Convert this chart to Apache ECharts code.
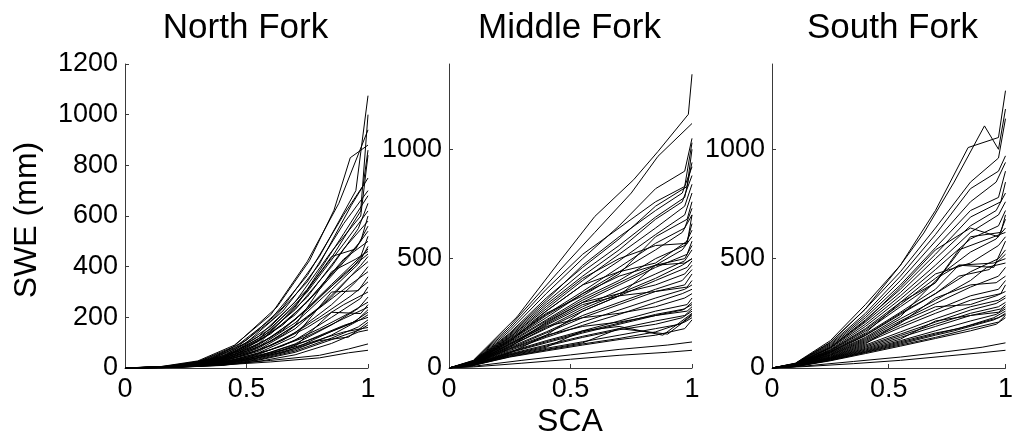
<!DOCTYPE html>
<html>
<head>
<meta charset="utf-8">
<script src="https://cdn.jsdelivr.net/npm/echarts@6/dist/echarts.min.js"></script>
<style>
  html, body { margin: 0; padding: 0; background: #fff; }
  #chart { width: 1016px; height: 437px; }
</style>
</head>
<body>
<div id="chart"></div>
<script>
// SWE (mm) against snow-covered area fraction, one curve per year and basin.
const panelTitles = ['North Fork', 'Middle Fork', 'South Fork'];
const xTicks = [0, 0.5, 1];
const yTicksNorth = [0, 200, 400, 600, 800, 1000, 1200];
const yTicksOther = [0, 500, 1000];
const yMaxNorth = 1200;
const yMaxOther = 1390;

const northFork = [
  [[0,0],[0.15,5],[0.3,25],[0.445,83],[0.625,240],[0.76,425],[0.86,623],[0.927,830],[1,880]],
  [[0,0],[0.15,6],[0.3,28],[0.45,90],[0.6,210],[0.75,420],[0.88,650],[1,940]],
  [[0,0],[0.2,8],[0.35,35],[0.5,110],[0.65,240],[0.8,440],[0.95,700],[1,1075]],
  [[0,0],[0.2,7],[0.35,32],[0.5,100],[0.65,225],[0.8,410],[0.93,640],[1,750]],
  [[0,0],[0.15,4],[0.3,22],[0.45,75],[0.6,185],[0.75,340],[0.9,570],[1,700]],
  [[0,0],[0.2,6],[0.4,45],[0.55,125],[0.7,260],[0.85,460],[0.97,600],[1,840]],
  [[0,0],[0.15,3],[0.3,20],[0.45,70],[0.6,165],[0.75,310],[0.9,530],[1,680]],
  [[0,0],[0.2,6],[0.4,40],[0.55,110],[0.7,230],[0.85,400],[0.96,550],[1,650]],
  [[0,0],[0.15,4],[0.3,18],[0.45,65],[0.6,155],[0.75,300],[0.9,490],[1,620]],
  [[0,0],[0.2,5],[0.4,38],[0.55,105],[0.7,210],[0.85,370],[0.97,500],[1,600]],
  [[0,0],[0.15,3],[0.3,18],[0.45,62],[0.6,145],[0.75,280],[0.9,470],[1,580]],
  [[0,0],[0.2,5],[0.4,35],[0.55,95],[0.7,240],[0.85,440],[0.95,470],[1,560]],
  [[0,0],[0.15,3],[0.35,25],[0.5,78],[0.65,170],[0.8,310],[0.93,450],[1,540]],
  [[0,0],[0.2,5],[0.4,34],[0.55,90],[0.7,190],[0.85,330],[0.97,440],[1,520]],
  [[0,0],[0.15,3],[0.3,16],[0.45,56],[0.6,135],[0.75,260],[0.9,430],[1,500]],
  [[0,0],[0.2,4],[0.4,31],[0.55,84],[0.7,178],[0.85,310],[0.96,410],[1,480]],
  [[0,0],[0.15,3],[0.35,22],[0.5,68],[0.65,150],[0.8,280],[0.93,390],[1,470]],
  [[0,0],[0.2,4],[0.4,29],[0.55,78],[0.7,168],[0.85,380],[0.95,430],[1,460]],
  [[0,0],[0.15,2],[0.3,15],[0.45,52],[0.6,120],[0.75,230],[0.9,370],[1,450]],
  [[0,0],[0.2,4],[0.4,27],[0.55,72],[0.7,155],[0.85,280],[0.97,405],[1,440]],
  [[0,0],[0.15,2],[0.35,20],[0.5,60],[0.65,130],[0.8,240],[0.92,355],[1,420]],
  [[0,0],[0.2,4],[0.4,25],[0.55,66],[0.7,140],[0.85,250],[0.95,340],[1,400]],
  [[0,0],[0.15,2],[0.3,13],[0.45,46],[0.6,105],[0.75,200],[0.9,310],[1,380]],
  [[0,0],[0.2,3],[0.4,22],[0.55,60],[0.7,125],[0.85,300],[0.96,305],[1,360]],
  [[0,0],[0.15,2],[0.35,17],[0.5,52],[0.65,110],[0.8,200],[0.93,285],[1,340]],
  [[0,0],[0.2,3],[0.4,20],[0.55,54],[0.7,110],[0.85,200],[0.97,275],[1,320]],
  [[0,0],[0.15,2],[0.3,12],[0.45,40],[0.6,88],[0.75,160],[0.9,250],[1,300]],
  [[0,0],[0.2,3],[0.4,18],[0.55,47],[0.7,95],[0.85,170],[0.96,235],[1,280]],
  [[0,0],[0.15,2],[0.35,15],[0.5,42],[0.65,88],[0.8,155],[0.92,215],[1,260]],
  [[0,0],[0.2,3],[0.4,16],[0.55,42],[0.7,85],[0.85,220],[0.97,215],[1,250]],
  [[0,0],[0.15,2],[0.3,10],[0.45,33],[0.6,72],[0.75,125],[0.9,195],[1,240]],
  [[0,0],[0.2,3],[0.4,15],[0.55,39],[0.7,78],[0.85,145],[0.95,185],[1,230]],
  [[0,0],[0.15,2],[0.35,13],[0.5,36],[0.65,72],[0.8,125],[0.93,175],[1,220]],
  [[0,0],[0.2,2],[0.4,14],[0.55,36],[0.7,72],[0.85,130],[0.97,192],[1,210]],
  [[0,0],[0.15,1],[0.3,9],[0.45,29],[0.6,62],[0.75,108],[0.9,168],[1,200]],
  [[0,0],[0.2,2],[0.4,12],[0.55,33],[0.7,67],[0.85,118],[0.96,162],[1,190]],
  [[0,0],[0.15,1],[0.35,11],[0.5,31],[0.65,62],[0.8,108],[0.92,122],[1,180]],
  [[0,0],[0.2,2],[0.4,11],[0.55,31],[0.7,62],[0.85,112],[0.97,152],[1,170]],
  [[0,0],[0.15,1],[0.3,8],[0.45,26],[0.6,56],[0.75,97],[0.9,142],[1,160]],
  [[0,0],[0.2,2],[0.4,10],[0.55,26],[0.7,52],[0.85,97],[0.96,142],[1,150]],
  [[0,0],[0.2,4],[0.4,12],[0.6,24],[0.8,40],[0.92,60],[1,70]],
  [[0,0],[0.2,4],[0.4,14],[0.6,30],[0.8,50],[0.92,75],[1,95]],
  [[0,0],[0.2,6],[0.4,42],[0.55,115],[0.7,245],[0.85,435],[0.97,620],[1,1000]],
  [[0,0],[0.15,4],[0.3,24],[0.45,80],[0.6,192],[0.75,365],[0.9,605],[0.98,720],[1,860]]
];

const middleFork = [
  [[0,0],[0.1,35],[0.28,234],[0.45,480],[0.6,693],[0.76,861],[0.86,990],[0.985,1160],[1,1343]],
  [[0,0],[0.1,33],[0.25,190],[0.45,440],[0.6,620],[0.75,800],[0.86,968],[1,1118]],
  [[0,0],[0.1,30],[0.25,170],[0.4,340],[0.55,500],[0.7,650],[0.85,820],[0.97,900],[1,1050]],
  [[0,0],[0.1,30],[0.25,160],[0.4,320],[0.55,460],[0.7,590],[0.85,740],[0.98,830],[1,1000]],
  [[0,0],[0.1,28],[0.25,150],[0.4,300],[0.55,440],[0.7,560],[0.85,690],[0.97,780],[1,940]],
  [[0,0],[0.1,28],[0.25,145],[0.4,290],[0.55,420],[0.7,540],[0.85,680],[0.96,760],[1,880]],
  [[0,0],[0.1,27],[0.25,140],[0.4,270],[0.55,400],[0.7,520],[0.85,640],[0.97,740],[1,840]],
  [[0,0],[0.1,26],[0.25,135],[0.4,260],[0.55,380],[0.7,490],[0.85,610],[0.97,700],[1,800]],
  [[0,0],[0.1,26],[0.25,130],[0.4,250],[0.55,330],[0.7,430],[0.85,600],[0.98,680],[1,760]],
  [[0,0],[0.1,25],[0.25,130],[0.4,245],[0.55,350],[0.7,460],[0.85,570],[0.97,640],[1,730]],
  [[0,0],[0.1,25],[0.25,125],[0.4,240],[0.55,340],[0.7,440],[0.85,540],[0.96,620],[1,700]],
  [[0,0],[0.1,24],[0.25,120],[0.4,260],[0.55,380],[0.7,440],[0.85,480],[0.98,580],[1,660]],
  [[0,0],[0.1,24],[0.25,120],[0.4,220],[0.55,320],[0.7,400],[0.85,500],[0.97,560],[1,630]],
  [[0,0],[0.1,23],[0.25,115],[0.4,215],[0.55,310],[0.7,390],[0.85,470],[0.96,540],[1,600]],
  [[0,0],[0.1,23],[0.25,110],[0.4,205],[0.55,300],[0.7,380],[0.85,460],[0.98,520],[1,580]],
  [[0,0],[0.1,22],[0.25,110],[0.4,200],[0.55,290],[0.7,330],[0.85,470],[0.97,500],[1,560]],
  [[0,0],[0.1,22],[0.25,105],[0.4,195],[0.55,280],[0.7,355],[0.85,430],[0.97,490],[1,540]],
  [[0,0],[0.1,21],[0.25,100],[0.4,185],[0.55,270],[0.7,340],[0.85,410],[0.96,470],[1,500]],
  [[0,0],[0.1,21],[0.25,100],[0.4,180],[0.55,260],[0.7,330],[0.85,400],[0.98,460],[1,490]],
  [[0,0],[0.1,20],[0.25,95],[0.4,210],[0.55,300],[0.7,340],[0.85,380],[0.97,430],[1,470]],
  [[0,0],[0.1,20],[0.25,95],[0.4,165],[0.55,240],[0.7,300],[0.85,360],[0.96,400],[1,450]],
  [[0,0],[0.1,19],[0.25,90],[0.4,160],[0.55,230],[0.7,290],[0.85,350],[0.97,380],[1,430]],
  [[0,0],[0.1,19],[0.25,88],[0.4,150],[0.55,260],[0.7,330],[0.85,350],[0.98,370],[1,400]],
  [[0,0],[0.1,18],[0.25,85],[0.4,145],[0.55,210],[0.7,265],[0.85,320],[0.97,360],[1,380]],
  [[0,0],[0.1,18],[0.25,80],[0.4,140],[0.55,195],[0.7,245],[0.85,300],[0.96,340],[1,360]],
  [[0,0],[0.1,17],[0.25,110],[0.4,190],[0.55,230],[0.7,250],[0.85,280],[0.97,320],[1,340]],
  [[0,0],[0.1,17],[0.25,75],[0.4,125],[0.55,170],[0.7,215],[0.85,260],[0.98,290],[1,320]],
  [[0,0],[0.1,16],[0.25,72],[0.4,120],[0.55,165],[0.7,205],[0.85,245],[0.97,270],[1,300]],
  [[0,0],[0.1,16],[0.25,70],[0.4,115],[0.55,160],[0.7,200],[0.85,240],[0.96,265],[1,290]],
  [[0,0],[0.1,15],[0.25,68],[0.4,150],[0.55,190],[0.7,210],[0.85,240],[0.98,260],[1,280]],
  [[0,0],[0.1,15],[0.25,65],[0.4,105],[0.55,145],[0.7,180],[0.85,215],[0.97,240],[1,270]],
  [[0,0],[0.1,14],[0.25,62],[0.4,100],[0.55,140],[0.7,175],[0.85,200],[0.96,230],[1,260]],
  [[0,0],[0.1,14],[0.25,60],[0.4,95],[0.55,170],[0.7,190],[0.88,150],[1,250]],
  [[0,0],[0.1,13],[0.25,58],[0.4,90],[0.55,120],[0.7,150],[0.85,180],[0.95,200],[1,245]],
  [[0,0],[0.1,13],[0.25,55],[0.4,85],[0.55,115],[0.7,180],[0.9,155],[1,240]],
  [[0,0],[0.1,12],[0.25,52],[0.4,82],[0.55,110],[0.7,135],[0.85,165],[0.97,210],[1,230]],
  [[0,0],[0.1,12],[0.25,50],[0.4,78],[0.55,105],[0.7,130],[0.85,150],[0.97,180],[1,220]],
  [[0,0],[0.1,8],[0.3,35],[0.5,60],[0.7,85],[0.9,105],[1,119]],
  [[0,0],[0.1,5],[0.3,22],[0.5,40],[0.7,58],[0.9,72],[1,81]],
  [[0,0],[0.1,32],[0.25,180],[0.4,360],[0.55,520],[0.7,640],[0.85,760],[0.97,830],[1,1030]],
  [[0,0],[0.1,29],[0.25,155],[0.4,310],[0.55,470],[0.7,600],[0.85,720],[0.96,800],[1,920]],
  [[0,0],[0.1,27],[0.25,140],[0.4,280],[0.55,410],[0.7,500],[0.85,560],[0.98,570],[1,700]],
  [[0,0],[0.1,24],[0.25,125],[0.4,230],[0.55,340],[0.7,420],[0.85,470],[0.97,480],[1,500]]
];

const southFork = [
  [[0,0],[0.1,20],[0.25,115],[0.4,270],[0.55,470],[0.7,720],[0.84,1008],[0.97,1054],[1,1268]],
  [[0,0],[0.1,22],[0.25,125],[0.4,290],[0.55,470],[0.65,617],[0.78,850],[0.91,1107],[0.97,1000],[1,1184]],
  [[0,0],[0.1,20],[0.25,110],[0.4,250],[0.55,420],[0.7,610],[0.85,820],[0.97,900],[1,970]],
  [[0,0],[0.1,19],[0.25,105],[0.4,240],[0.55,400],[0.7,580],[0.85,760],[0.96,850],[1,940]],
  [[0,0],[0.1,18],[0.25,100],[0.4,230],[0.55,380],[0.7,550],[0.85,720],[0.97,780],[1,900]],
  [[0,0],[0.1,18],[0.25,95],[0.4,220],[0.55,360],[0.7,520],[0.85,690],[0.98,760],[1,850]],
  [[0,0],[0.1,17],[0.25,92],[0.4,210],[0.55,345],[0.7,500],[0.85,650],[0.96,720],[1,800]],
  [[0,0],[0.1,17],[0.25,90],[0.4,200],[0.55,330],[0.7,470],[0.85,620],[0.97,700],[1,760]],
  [[0,0],[0.1,16],[0.25,85],[0.4,190],[0.55,315],[0.7,450],[0.85,590],[0.97,650],[1,720]],
  [[0,0],[0.1,16],[0.25,82],[0.4,180],[0.55,300],[0.7,390],[0.85,600],[0.98,620],[1,700]],
  [[0,0],[0.1,15],[0.25,80],[0.4,175],[0.55,290],[0.7,410],[0.85,530],[0.96,590],[1,640]],
  [[0,0],[0.1,15],[0.25,78],[0.4,168],[0.55,280],[0.7,390],[0.8,540],[0.95,600],[1,620]],
  [[0,0],[0.1,14],[0.25,75],[0.4,160],[0.55,300],[0.7,430],[0.85,480],[0.97,560],[1,600]],
  [[0,0],[0.1,14],[0.25,72],[0.4,155],[0.55,255],[0.7,360],[0.8,470],[0.95,460],[1,580]],
  [[0,0],[0.1,13],[0.25,70],[0.4,148],[0.55,245],[0.7,340],[0.85,440],[0.97,500],[1,540]],
  [[0,0],[0.1,13],[0.25,68],[0.4,140],[0.55,235],[0.72,420],[0.8,470],[0.95,480],[1,500]],
  [[0,0],[0.1,12],[0.25,65],[0.4,135],[0.55,225],[0.7,310],[0.85,400],[0.92,460],[1,480]],
  [[0,0],[0.1,12],[0.25,62],[0.4,130],[0.55,215],[0.7,295],[0.85,370],[0.97,420],[1,460]],
  [[0,0],[0.1,11],[0.25,60],[0.4,125],[0.55,205],[0.7,320],[0.85,380],[0.96,390],[1,420]],
  [[0,0],[0.1,11],[0.25,58],[0.4,120],[0.55,195],[0.7,265],[0.85,330],[0.97,360],[1,400]],
  [[0,0],[0.1,10],[0.25,55],[0.4,115],[0.55,185],[0.7,250],[0.85,310],[0.98,340],[1,380]],
  [[0,0],[0.1,10],[0.25,52],[0.4,110],[0.55,210],[0.7,280],[0.85,290],[0.96,330],[1,350]],
  [[0,0],[0.1,10],[0.25,50],[0.4,105],[0.55,165],[0.7,225],[0.85,280],[0.97,310],[1,330]],
  [[0,0],[0.1,9],[0.25,48],[0.4,100],[0.55,155],[0.7,210],[0.85,265],[0.96,295],[1,320]],
  [[0,0],[0.1,9],[0.25,46],[0.4,95],[0.55,148],[0.7,200],[0.85,250],[0.97,280],[1,300]],
  [[0,0],[0.1,9],[0.25,45],[0.4,90],[0.55,140],[0.7,190],[0.85,240],[0.98,270],[1,290]],
  [[0,0],[0.1,8],[0.25,43],[0.4,86],[0.55,132],[0.7,215],[0.85,240],[0.97,255],[1,280]],
  [[0,0],[0.1,8],[0.25,42],[0.4,82],[0.55,125],[0.7,170],[0.85,215],[0.96,245],[1,270]],
  [[0,0],[0.1,8],[0.25,40],[0.4,78],[0.55,120],[0.7,160],[0.8,180],[0.95,230],[1,260]],
  [[0,0],[0.1,7],[0.25,38],[0.4,75],[0.55,115],[0.7,155],[0.85,195],[0.97,230],[1,250]],
  [[0,0],[0.1,7],[0.25,36],[0.4,72],[0.55,110],[0.7,150],[0.78,170],[0.95,220],[1,245]],
  [[0,0],[0.1,7],[0.25,35],[0.4,70],[0.55,105],[0.7,140],[0.85,180],[0.97,210],[1,240]],
  [[0,0],[0.1,6],[0.25,33],[0.4,66],[0.55,100],[0.7,135],[0.85,170],[0.96,200],[1,230]],
  [[0,0],[0.15,10],[0.35,30],[0.55,50],[0.75,75],[0.9,95],[1,115]],
  [[0,0],[0.15,7],[0.35,20],[0.55,35],[0.75,55],[0.9,70],[1,81]],
  [[0,0],[0.1,21],[0.25,118],[0.4,270],[0.55,440],[0.7,640],[0.85,850],[0.97,960],[1,1140]],
  [[0,0],[0.1,17],[0.25,95],[0.4,215],[0.55,370],[0.7,540],[0.85,640],[0.97,600],[1,680]],
  [[0,0],[0.1,14],[0.25,74],[0.4,150],[0.55,250],[0.7,340],[0.8,420],[0.93,450],[1,520]]
];

const FONT = 'Liberation Sans, Arial, Helvetica, sans-serif';
const AXIS_COLOR = '#3a3a3a';
const TEXT_COLOR = '#000';

// Plot boxes, one per basin
const boxes = [
  { left: 125, top: 64, width: 243, height: 304 },
  { left: 449, top: 64, width: 243, height: 304 },
  { left: 772, top: 64, width: 243, height: 304 }
];
const panels = [northFork, middleFork, southFork];

function xAxisFor(i) {
  return {
    type: 'value', gridIndex: i, min: 0, max: 1, interval: 0.5,
    axisLine: { show: true, lineStyle: { color: AXIS_COLOR, width: 1 } },
    axisTick: { show: true, inside: true, length: 4, lineStyle: { color: AXIS_COLOR },
                customValues: xTicks },
    axisLabel: { show: true, color: TEXT_COLOR, fontSize: 27, fontFamily: FONT, margin: 8,
                 customValues: xTicks, formatter: v => String(v) },
    splitLine: { show: false }
  };
}

function yAxisFor(i) {
  const ticks = i === 0 ? yTicksNorth : yTicksOther;
  return {
    type: 'value', gridIndex: i, min: 0,
    max: i === 0 ? yMaxNorth : yMaxOther,
    interval: i === 0 ? 200 : 500,
    axisLine: { show: true, lineStyle: { color: AXIS_COLOR, width: 1 } },
    axisTick: { show: true, inside: true, length: 4, lineStyle: { color: AXIS_COLOR },
                customValues: ticks },
    axisLabel: { show: true, color: TEXT_COLOR, fontSize: 27, fontFamily: FONT, margin: 7,
                 customValues: ticks, formatter: v => String(v) },
    splitLine: { show: false }
  };
}

const series = [];
panels.forEach((curves, i) => {
  curves.forEach(c => {
    series.push({
      type: 'line', xAxisIndex: i, yAxisIndex: i, data: c,
      showSymbol: false, symbol: 'none', silent: true,
      lineStyle: { color: '#000', width: 1 },
      emphasis: { disabled: true }
    });
  });
});

const graphics = [];
panelTitles.forEach((t, i) => {
  const b = boxes[i];
  graphics.push({
    type: 'text', x: b.left + b.width / 2 - 1, y: 28,
    style: { text: t, font: '35px ' + FONT, fill: TEXT_COLOR, align: 'center', verticalAlign: 'middle' }
  });
});
graphics.push({
  type: 'text', x: 27, y: 220, rotation: Math.PI / 2,
  style: { text: 'SWE (mm)', font: '32px ' + FONT, fill: TEXT_COLOR, align: 'center', verticalAlign: 'middle' }
});
graphics.push({
  type: 'text', x: 570, y: 422,
  style: { text: 'SCA', font: '32px ' + FONT, fill: TEXT_COLOR, align: 'center', verticalAlign: 'middle' }
});

const chart = echarts.init(document.getElementById('chart'), null, { renderer: 'canvas' });
chart.setOption({
  animation: false,
  backgroundColor: '#fff',
  grid: boxes.map(b => Object.assign({ containLabel: false, show: false }, b)),
  xAxis: boxes.map((b, i) => xAxisFor(i)),
  yAxis: boxes.map((b, i) => yAxisFor(i)),
  series: series,
  graphic: graphics
});
</script>
</body>
</html>
